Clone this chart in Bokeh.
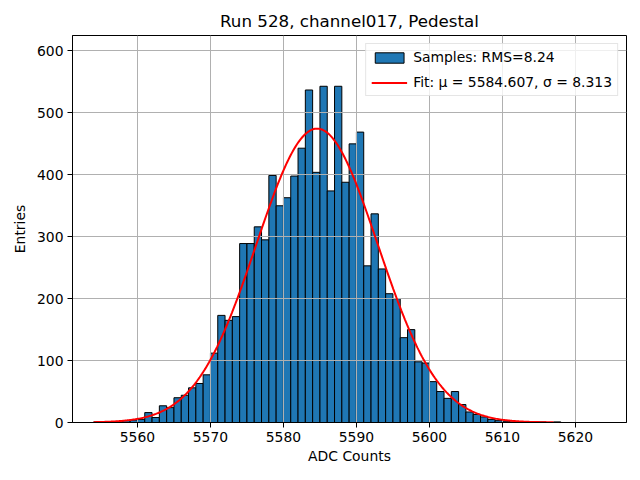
import numpy as np
from bokeh.plotting import figure
from bokeh.models import Range1d, FixedTicker, Legend, LegendItem
from bokeh.embed import file_html
from bokeh.resources import INLINE

# ---- data ----
bin_left = list(range(5554, 5618))
counts = [1, 0, 1, 1, 3, 4, 5, 16, 8, 27, 24, 40, 44, 56, 63, 77,
          112, 173, 165, 171, 289, 289, 316, 295, 399, 350, 363, 398,
          443, 537, 404, 543, 374, 543, 388, 450, 469, 253, 337, 248,
          208, 200, 137, 150, 98, 96, 66, 50, 39, 50, 29, 17, 13, 9,
          5, 3, 2, 1, 1, 0, 0, 1, 0, 1]
fit_mu = 5584.607
fit_sigma = 8.313
fit_amp = 474.6
fit_xmin, fit_xmax = 5554, 5617
x_ticks = [5560, 5570, 5580, 5590, 5600, 5610, 5620]
y_ticks = [0, 100, 200, 300, 400, 500, 600]
title_text = "Run 528, channel017, Pedestal"
xlabel = "ADC Counts"
ylabel = "Entries"
label_samples = "Samples: RMS=8.24"
label_fit = "Fit: \u03bc = 5584.607, \u03c3 = 8.313"

FONT = "DejaVu Sans"

p = figure(width=640, height=480, output_backend="svg", toolbar_location=None,
           x_range=Range1d(5551.1, 5627.0), y_range=Range1d(0, 625),
           min_border_left=72, min_border_right=14, min_border_top=35,
           min_border_bottom=58)

p.title.text = title_text
p.title.align = "center"
p.title.text_font = FONT
p.title.text_font_size = "16.7px"
p.title.text_font_style = "normal"
p.title.text_color = "black"

left = np.array(bin_left, dtype=float)
bars = p.quad(left=left, right=left + 1, bottom=0, top=counts,
              fill_color="#1f77b4", line_color="black", line_width=1,
              level="image")

fx = np.linspace(fit_xmin, fit_xmax, 400)
fy = fit_amp * np.exp(-(fx - fit_mu) ** 2 / (2 * fit_sigma ** 2))
line = p.line(fx, fy, line_color="red", line_width=2)

for ax in (p.xaxis[0], p.yaxis[0]):
    ax.major_label_text_font = FONT
    ax.major_label_text_font_size = "13.9px"
    ax.major_label_text_color = "black"
    ax.axis_label_text_font = FONT
    ax.axis_label_text_font_size = "13.9px"
    ax.axis_label_text_font_style = "normal"
    ax.axis_label_text_color = "black"
    ax.axis_line_color = "black"
    ax.major_tick_line_color = "black"
    ax.major_tick_out = 5
    ax.major_tick_in = 0
    ax.minor_tick_line_color = None
    ax.major_label_standoff = 4

p.xaxis.ticker = FixedTicker(ticks=x_ticks)
p.yaxis.ticker = FixedTicker(ticks=y_ticks)
p.xaxis.axis_label = xlabel
p.yaxis.axis_label = ylabel
p.xaxis.axis_label_standoff = 3
p.yaxis.axis_label_standoff = 6

for g in (p.xgrid[0], p.ygrid[0]):
    g.grid_line_color = "#b0b0b0"
    g.grid_line_width = 1
    g.level = "underlay"

p.outline_line_color = "black"
p.outline_line_alpha = 1
p.outline_line_width = 1
p.background_fill_color = "white"
p.border_fill_color = "white"

legend = Legend(items=[LegendItem(label=label_samples, renderers=[bars]),
                       LegendItem(label=label_fit, renderers=[line])],
                location="top_right", margin=8, padding=5, spacing=9,
                glyph_width=36, glyph_height=13, label_height=14,
                label_standoff=6,
                label_text_font=FONT, label_text_font_size="13.9px",
                label_text_color="black",
                border_line_color="#cccccc", border_line_width=1,
                background_fill_alpha=0.8)
p.add_layout(legend)

open("out.html", "w").write(file_html(p, INLINE))
